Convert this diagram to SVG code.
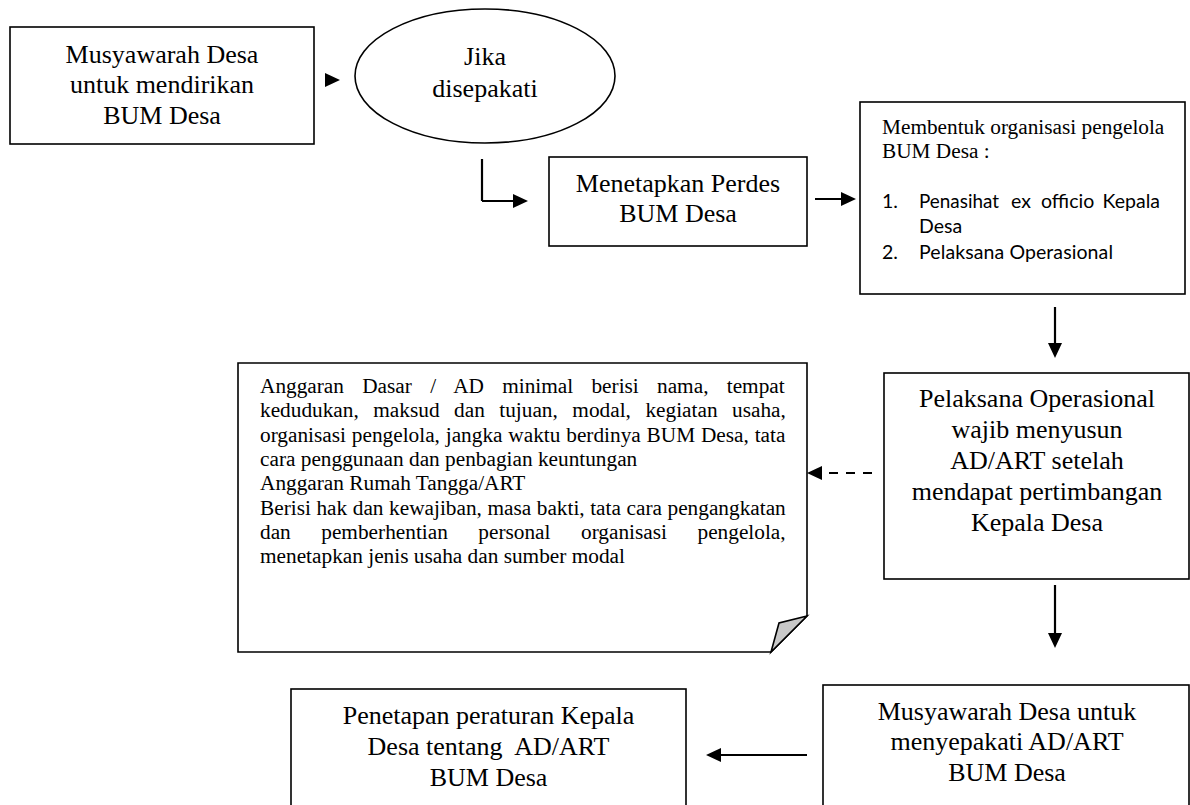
<svg xmlns="http://www.w3.org/2000/svg" width="1190" height="805" viewBox="0 0 1190 805">
<style>
.box{fill:#fff;stroke:#000;stroke-width:1.6}
.t26{font-family:"Liberation Serif","Times New Roman",serif;font-size:26px;text-anchor:middle;fill:#000}
.t21{font-family:"Liberation Serif","Times New Roman",serif;font-size:21.3px;fill:#000}
.cal{font-family:Lato,"Open Sans",sans-serif;font-size:19.5px;fill:#000}
.con{fill:none;stroke:#000;stroke-width:2.2}
</style>
<defs>
<marker id="ah" markerUnits="userSpaceOnUse" markerWidth="16" markerHeight="14" refX="7" refY="7" orient="auto">
<path d="M0,0 L15,7 L0,14 Z" fill="#000"/>
</marker>
</defs>
<rect width="1190" height="805" fill="#fff"/>

<g id="node-musyawarah-awal">
<rect class="box" x="10" y="27" width="304" height="117"/>
<text class="t26" x="162" y="63">Musyawarah Desa</text>
<text class="t26" x="162" y="93">untuk mendirikan</text>
<text class="t26" x="162" y="124">BUM Desa</text>
</g>

<g id="node-jika">
<ellipse class="box" cx="485" cy="76" rx="130" ry="67"/>
<text class="t26" x="485" y="65">Jika</text>
<text class="t26" x="485" y="97">disepakati</text>
</g>

<g id="node-perdes">
<rect class="box" x="549" y="157" width="258" height="89"/>
<text class="t26" x="678" y="192">Menetapkan Perdes</text>
<text class="t26" x="678" y="222">BUM Desa</text>
</g>

<g id="node-organisasi">
<rect class="box" x="860" y="102" width="325" height="192"/>
<text class="t21" x="882" y="134">Membentuk organisasi pengelola</text>
<text class="t21" x="882" y="158">BUM Desa :</text>
<text class="cal" x="882" y="208">1.</text>
<text class="cal" x="919" y="208" textLength="80" lengthAdjust="spacingAndGlyphs">Penasihat</text>
<text class="cal" x="1011" y="208">ex</text>
<text class="cal" x="1041" y="208">officio</text>
<text class="cal" x="1160" y="208" text-anchor="end">Kepala</text>
<text class="cal" x="919" y="233">Desa</text>
<text class="cal" x="882" y="259">2.</text>
<text class="cal" x="919" y="259" textLength="194" lengthAdjust="spacing">Pelaksana Operasional</text>
</g>

<g id="node-pelaksana">
<rect class="box" x="884" y="373" width="305" height="206"/>
<text class="t26" x="1037" y="407">Pelaksana Operasional</text>
<text class="t26" x="1037" y="438">wajib menyusun</text>
<text class="t26" x="1037" y="469">AD/ART setelah</text>
<text class="t26" x="1037" y="500">mendapat pertimbangan</text>
<text class="t26" x="1037" y="531">Kepala Desa</text>
</g>

<g id="node-adart-note">
<path class="box" d="M238,363 H807 V616 L771,652 H238 Z"/>
<path d="M807,616 L779,623 L771,652 Z" fill="#c8c8c8" stroke="#000" stroke-width="1.6" stroke-linejoin="miter"/>
<text class="t21" x="260" y="393" word-spacing="12.94">Anggaran Dasar / AD minimal berisi nama, tempat</text>
<text class="t21" x="260" y="417" word-spacing="9.18">kedudukan, maksud dan tujuan, modal, kegiatan usaha,</text>
<text class="t21" x="260" y="442" word-spacing="0.51">organisasi pengelola, jangka waktu berdinya BUM Desa, tata</text>
<text class="t21" x="260" y="466">cara penggunaan dan penbagian keuntungan</text>
<text class="t21" x="260" y="490">Anggaran Rumah Tangga/ART</text>
<text class="t21" x="260" y="515" word-spacing="0.23">Berisi hak dan kewajiban, masa bakti, tata cara pengangkatan</text>
<text class="t21" x="260" y="539" word-spacing="25.2">dan pemberhentian personal organisasi pengelola,</text>
<text class="t21" x="260" y="563">menetapkan jenis usaha dan sumber modal</text>
</g>

<g id="node-musyawarah-adart">
<rect class="box" x="823" y="685" width="366" height="140"/>
<text class="t26" x="1007" y="720">Musyawarah Desa untuk</text>
<text class="t26" x="1007" y="750">menyepakati AD/ART</text>
<text class="t26" x="1007" y="781">BUM Desa</text>
</g>

<g id="node-penetapan">
<rect class="box" x="291" y="689" width="395" height="140"/>
<text class="t26" x="488.5" y="724">Penetapan peraturan Kepala</text>
<text class="t26" x="488.5" y="755" xml:space="preserve">Desa tentang  AD/ART</text>
<text class="t26" x="488.5" y="786">BUM Desa</text>
</g>

<g id="connectors">
<path d="M325,73 L340,80 L325,87 Z" fill="#000"/>
<path class="con" d="M482,159 V201"/>
<path class="con" d="M482,201 H520" marker-end="url(#ah)"/>
<path class="con" d="M815,199 H848" marker-end="url(#ah)"/>
<path class="con" d="M1055,307 V350" marker-end="url(#ah)"/>
<path class="con" d="M872,473 H815" stroke-dasharray="9,8" marker-end="url(#ah)"/>
<path class="con" d="M1055,585 V640" marker-end="url(#ah)"/>
<path class="con" d="M807,755 H714" marker-end="url(#ah)"/>
</g>
</svg>
